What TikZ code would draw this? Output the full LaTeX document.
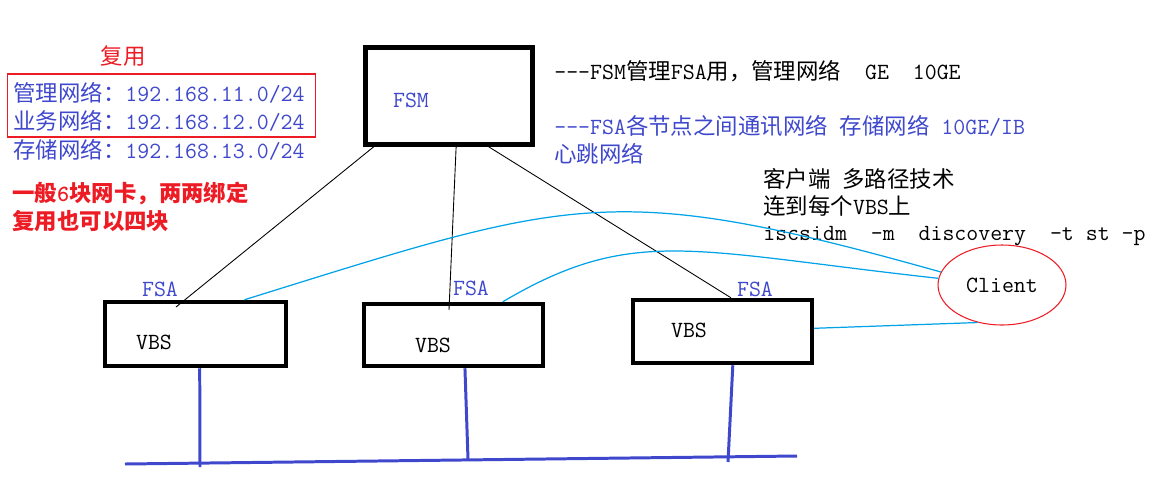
\documentclass[tikz,border=0pt]{standalone}
\usepackage{fontspec}
\newfontfamily\cjk[Scale=0.967]{Noto Sans CJK SC}
\usepackage{tikz}
\usetikzlibrary{shapes.geometric}
\definecolor{paintblue}{RGB}{63,72,204}
\definecolor{paintred}{RGB}{237,28,36}
\definecolor{paintcyan}{RGB}{0,162,232}
\newcommand{\zhtxt}[1]{{\cjk #1}}

\begin{document}
\begin{tikzpicture}[x=0.02cm,y=-0.02cm]
            \tikzstyle{every node}=[font=\ttfamily\fontsize{13.2}{15}\selectfont, inner sep=0pt]
            \tikzstyle{server}=[draw, line width=0.09cm]
            \tikzstyle{txt}=[anchor=west]
            \tikzstyle{wire}=[line width=0.5pt]
            \tikzstyle{iscsi}=[paintcyan, line width=0.7pt]
            \tikzstyle{lan}=[paintblue, line width=1.7pt]
            \useasboundingbox (0,0) rectangle (1164,498);

            % left notes
            \node[text=paintred] (reuse) at (123,56) {\zhtxt{复用}};
            \draw[paintred, line width=0.6pt] (7.5,74) rectangle (315.5,137);
            \node[txt, text=paintblue] (mgmt) at (13,93) {\zhtxt{管理网络：}192.168.11.0/24};
            \node[txt, text=paintblue] (biz) at (13,121) {\zhtxt{业务网络：}192.168.12.0/24};
            \node[txt, text=paintblue] (stor) at (13,150) {\zhtxt{存储网络：}192.168.13.0/24};
            \node[txt, text=paintred] (nic) at (12,193) {\bfseries\zhtxt{一般}6\zhtxt{块网卡，两两绑定}};
            \node[txt, text=paintred] (nic2) at (12,221) {\bfseries\zhtxt{复用也可以四块}};

            % right notes
            \node[txt] (mgmtnote) at (554,71) {---FSM\zhtxt{管理}FSA\zhtxt{用，管理网络}\ \ GE\ \ 10GE};
            \node[txt, text=paintblue] (stornote) at (554,126) {---FSA\zhtxt{各节点之间通讯网络}\ \zhtxt{存储网络}\ 10GE/IB};
            \node[txt, text=paintblue] (hbnote) at (554,154) {\zhtxt{心跳网络}};
            \node[txt] (mpnote) at (763,179) {\zhtxt{客户端}\ \zhtxt{多路径技术}};
            \node[txt] (vbsnote) at (763,206) {\zhtxt{连到每个}VBS\zhtxt{上}};
            \node[txt] (cmd) at (763,236) {iscsidm\ \ -m\ \ discovery\ \ -t st -p};

            % boxes
            \node[server, minimum width=3.34cm, minimum height=1.94cm] (fsm) at (449,96) {};
            \node[server, minimum width=3.62cm, minimum height=1.28cm] (vbsa) at (195.5,334) {};
            \node[server, minimum width=3.58cm, minimum height=1.24cm] (vbsb) at (453.5,335) {};
            \node[server, minimum width=3.58cm, minimum height=1.26cm] (vbsc) at (722.5,331.5) {};
            \node[text=paintblue] (fsmlbl) at (411,100) {FSM};
            \node (vbsalbl) at (154,342) {VBS};
            \node (vbsblbl) at (433,345) {VBS};
            \node (vbsclbl) at (689,330) {VBS};
            \node[text=paintblue] (fsaa) at (160,289) {FSA};
            \node[text=paintblue] (fsab) at (471,288) {FSA};
            \node[text=paintblue] (fsac) at (755,289) {FSA};
            \node[ellipse, draw=paintred, line width=0.6pt, minimum width=2.56cm, minimum height=1.6cm] (client) at (1002,285) {Client};

            \coordinate (fa) at (176,307);
            \coordinate (fb) at (449,310);
            \draw[wire] (fsm.214) -- (fa);
            \draw[wire] (fsm.-82) -- (fb);
            \draw[wire] (fsm.-52) -- (vbsc.76);

            \draw[iscsi] (vbsa.35) .. controls (572,198) and (610,179) .. (client.168);
            \draw[iscsi] (vbsb.34) .. controls (633,225) and (690,251) .. (client.174);
            \draw[iscsi] (vbsc.2) -- (client.237);

            \coordinate (busl) at (125,464);
            \coordinate (busr) at (797,456);
            \coordinate (bus1) at (200,467);
            \coordinate (bus2) at (468,459);
            \coordinate (bus3) at (728,462);
            \draw[lan] (busl) -- (busr);
            \draw[lan] (vbsa.-83) -- (bus1);
            \draw[lan] (vbsb.-71) -- (bus2);
            \draw[lan] (vbsc.-73) -- (bus3);
        \end{tikzpicture}
\end{document}
